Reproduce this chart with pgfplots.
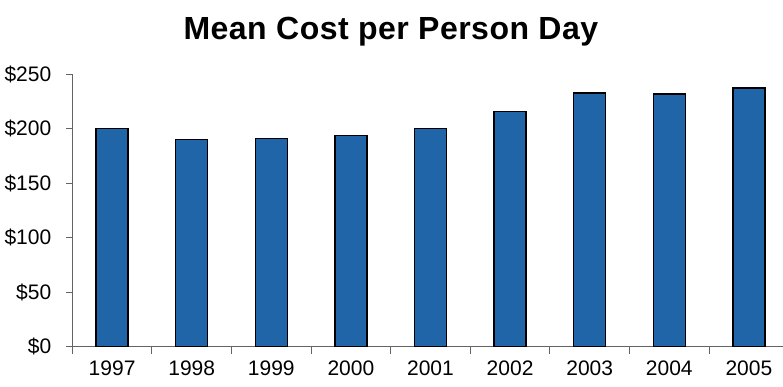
\documentclass[border=0pt]{standalone}
\usepackage{pgfplots}
\pgfplotsset{compat=1.18}
\usepackage{fontspec}
\setmainfont{Liberation Sans}
\definecolor{barblue}{RGB}{33,101,169}
\definecolor{axgray}{RGB}{100,100,100}
\begin{document}
\begin{tikzpicture}
\begin{axis}[
  scale only axis,
  width=716.4bp, height=272.4bp,
  xmin=-0.5, xmax=8.5,
  ymin=0, ymax=250,
  clip=false,
  axis x line*=bottom, axis y line*=left,
  axis line style={axgray, line width=1pt, -},
  tick align=outside,
  xtick={0,...,8},
  xticklabels={1997,1998,1999,2000,2001,2002,2003,2004,2005},
  major x tick style={draw=none},
  minor xtick={-0.5,0.5,...,7.5},
  minor x tick style={axgray, line width=1pt},
  minor tick length=7bp,
  major tick length=6bp,
  ytick={0,50,...,250},
  yticklabels={\$0,\$50,\$100,\$150,\$200,\$250},
  y tick style={axgray, line width=1pt},
  tick label style={font=\fontsize{21bp}{24bp}\selectfont, text=black},
  yticklabel style={xshift=-11.5bp},
  xticklabel style={yshift=-5bp},
  ybar, bar width=0.4,
]
\addplot[fill=barblue, draw=black, line width=1.4pt] coordinates {
  (0,200) (1,190) (2,191) (3,194) (4,200) (5,216) (6,233) (7,232) (8,237.5)
};
\coordinate (sw) at (rel axis cs:0,0);
\coordinate (ne) at (rel axis cs:1,1);
\node[anchor=base, yshift=34.3bp, font=\fontsize{32bp}{36bp}\selectfont\bfseries\addfontfeature{LetterSpace=1.5}] at (rel axis cs:0.4447,1) {Mean Cost per Person Day};
\end{axis}
\pgfresetboundingbox
\useasboundingbox ([xshift=-72.3bp, yshift=-40.3bp]sw) rectangle ([xshift=-5.7bp, yshift=74.3bp]ne);
\end{tikzpicture}
\end{document}
